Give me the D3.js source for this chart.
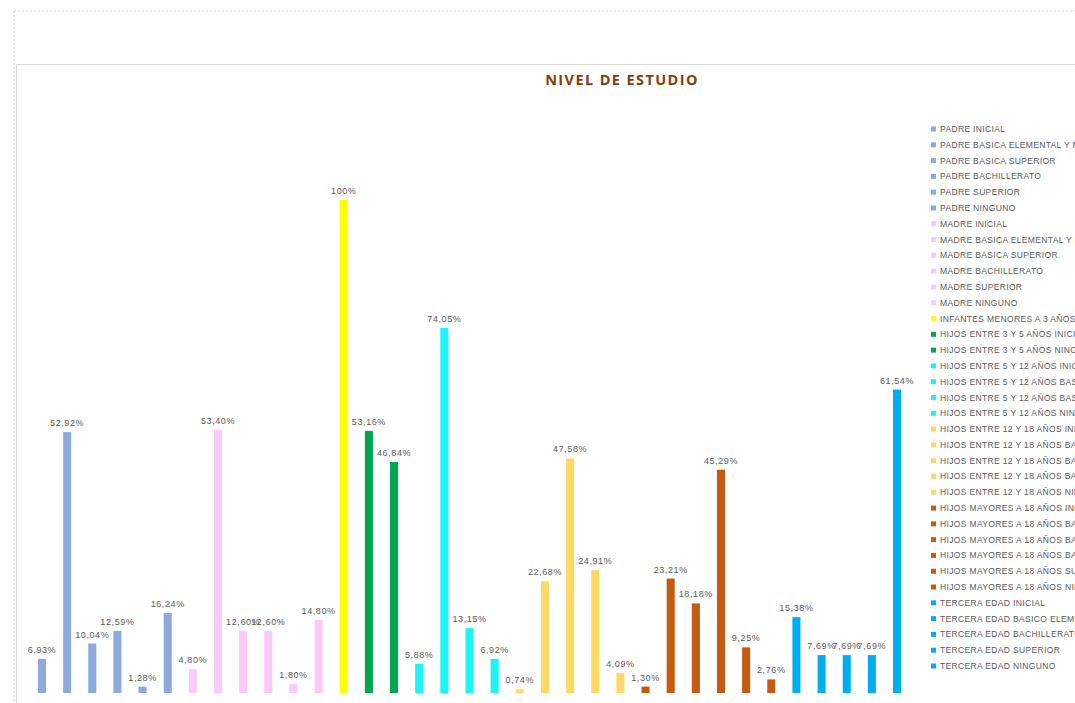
<!DOCTYPE html>
<html><head><meta charset="utf-8">
<script src="https://cdn.jsdelivr.net/npm/d3@7"></script>
<style>body{margin:0;background:#fff;overflow:hidden}svg{display:block}</style>
</head><body>
<script>
const categories = [
  "PADRE INICIAL","PADRE BASICA ELEMENTAL Y MEDIA","PADRE BASICA SUPERIOR","PADRE BACHILLERATO","PADRE SUPERIOR","PADRE NINGUNO",
  "MADRE INICIAL","MADRE BASICA ELEMENTAL Y MEDIA","MADRE BASICA SUPERIOR","MADRE BACHILLERATO","MADRE SUPERIOR","MADRE NINGUNO",
  "INFANTES MENORES A 3 AÑOS",
  "HIJOS ENTRE 3 Y 5 AÑOS  INICIAL","HIJOS ENTRE 3 Y 5 AÑOS  NINGUNO",
  "HIJOS ENTRE 5 Y 12 AÑOS INICIAL","HIJOS ENTRE 5 Y 12 AÑOS BASICA ELEMENTAL","HIJOS ENTRE 5 Y 12 AÑOS BASICA SUPERIOR","HIJOS ENTRE 5 Y 12 AÑOS NINGUNO",
  "HIJOS ENTRE 12 Y 18 AÑOS  INICIAL","HIJOS ENTRE 12 Y 18 AÑOS BASICA ELEMENTAL","HIJOS ENTRE 12 Y 18 AÑOS BASICA SUPERIOR","HIJOS ENTRE 12 Y 18 AÑOS BACHILLERATO","HIJOS ENTRE 12 Y 18 AÑOS NINGUNO",
  "HIJOS MAYORES A 18 AÑOS INICIAL","HIJOS MAYORES A 18 AÑOS BASICA ELEMENTAL","HIJOS MAYORES A 18 AÑOS BASICA SUPERIOR","HIJOS MAYORES A 18 AÑOS BACHILLERATO","HIJOS MAYORES A 18 AÑOS SUPERIOR","HIJOS MAYORES A 18 AÑOS NINGUNO",
  "TERCERA EDAD INICIAL","TERCERA EDAD BASICO ELEMENTAL","TERCERA EDAD BACHILLERATO","TERCERA EDAD SUPERIOR","TERCERA EDAD NINGUNO"
];
const values = [
  6.93, 52.92, 10.04, 12.59, 1.28, 16.24,
  4.80, 53.40, 12.60, 12.60, 1.80, 14.80,
  100,
  53.16, 46.84,
  5.88, 74.05, 13.15, 6.92,
  0.74, 22.68, 47.58, 24.91, 4.09,
  1.30, 23.21, 18.18, 45.29, 9.25, 2.76,
  15.38, 7.69, 7.69, 7.69, 61.54
];
const groups = [
  "padre","padre","padre","padre","padre","padre",
  "madre","madre","madre","madre","madre","madre",
  "infantes",
  "h3","h3",
  "h5","h5","h5","h5",
  "h12","h12","h12","h12","h12",
  "h18","h18","h18","h18","h18","h18",
  "ter","ter","ter","ter","ter"
];
const groupNames = ["padre","madre","infantes","h3","h5","h12","h18","ter"];
const groupColors = ["#8EA9DB","#FACAF8","#FFFF00","#00A650","#1CF5F5","#FFD966","#C55A11","#00AEEF"];
const title = "NIVEL DE ESTUDIO";

const W = 1075, H = 703;
const svg = d3.select("body").append("svg").attr("width", W).attr("height", H);

// frame
svg.append("line").attr("x1",14).attr("y1",11).attr("x2",W).attr("y2",11)
  .attr("stroke","#cfcfcf").attr("stroke-dasharray","2,2");
svg.append("line").attr("x1",14).attr("y1",11).attr("x2",14).attr("y2",H)
  .attr("stroke","#cfcfcf").attr("stroke-dasharray","2,2");
svg.append("line").attr("x1",16).attr("y1",64.5).attr("x2",W).attr("y2",64.5)
  .attr("stroke","#d9d9d9");
svg.append("line").attr("x1",16.5).attr("y1",64).attr("x2",16.5).attr("y2",H)
  .attr("stroke","#d9d9d9");

svg.append("text").attr("x",622).attr("y",85).attr("text-anchor","middle")
  .attr("font-family","'Open Sans', sans-serif").attr("font-weight","bold")
  .attr("font-size",14.5).attr("letter-spacing",1.4).attr("fill","#843C0C").text(title);

const color = d3.scaleOrdinal().domain(groupNames).range(groupColors);
const x = d3.scaleBand().domain(d3.range(categories.length))
  .range([29.4, 909.6]).paddingInner(0.68).paddingOuter(0.34);
const y = d3.scaleLinear().domain([0, 100]).range([693, 200]);

const data = categories.map((c, i) => ({c, v: values[i], g: groups[i], i}));

svg.append("g").selectAll("rect").data(data).join("rect")
  .attr("x", d => x(d.i)).attr("width", x.bandwidth())
  .attr("y", d => y(d.v)).attr("height", d => y(0) - y(d.v))
  .attr("fill", d => color(d.g));

const fmt = v => v === 100 ? "100%" : v.toFixed(2).replace(".", ",") + "%";
svg.append("g").selectAll("text").data(data).join("text")
  .attr("x", d => x(d.i) + x.bandwidth()/2).attr("y", d => y(d.v) - 6)
  .attr("text-anchor","middle")
  .attr("font-family","'Liberation Sans', Arial, sans-serif").attr("font-size",9)
  .attr("letter-spacing",0.6)
  .attr("fill","#595959").text(d => fmt(d.v));

// legend
const leg = svg.append("g");
const ly = d3.scaleLinear().domain([0, categories.length - 1]).range([129, 666]);
const li = leg.selectAll("g").data(data).join("g")
  .attr("transform", d => `translate(931,${ly(d.i)})`);
li.append("rect").attr("x",0).attr("y",-2.5).attr("width",5).attr("height",5)
  .attr("fill", d => color(d.g));
li.append("text").attr("x",9).attr("y",3)
  .attr("font-family","'Liberation Sans', Arial, sans-serif").attr("font-size",8.5)
  .attr("letter-spacing",0.35)
  .attr("fill","#595959").text(d => d.c);
</script>
</body></html>
